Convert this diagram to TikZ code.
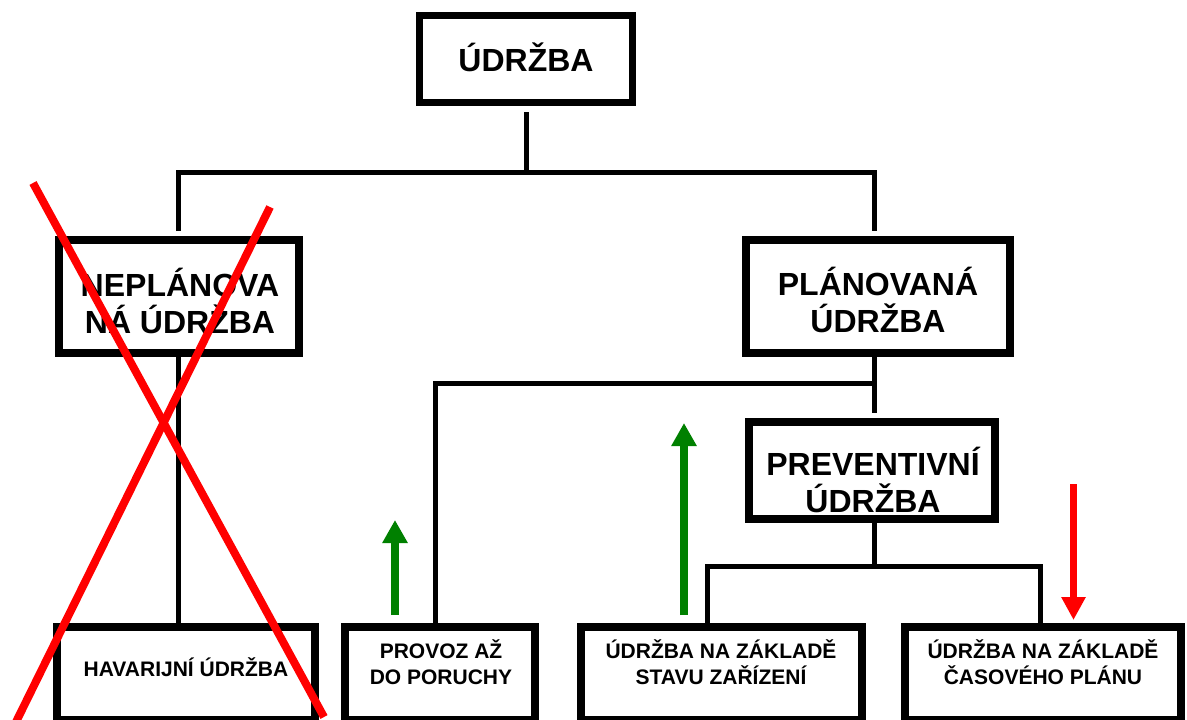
\documentclass[tikz,border=0pt]{standalone}
\usepackage{fontspec}
\setmainfont{Liberation Sans}
\usetikzlibrary{arrows.meta,calc}
\definecolor{arrgreen}{RGB}{0,128,0}
\definecolor{crossred}{RGB}{255,0,0}
\begin{document}
\begin{tikzpicture}[x=1pt,y=-1pt,
  box/.style={draw=black,line width=8pt,rectangle,inner sep=0pt},
  bigtxt/.style={font=\bfseries\fontsize{32}{36.5}\selectfont,align=center,inner sep=0pt},
  smalltxt/.style={font=\bfseries\fontsize{21}{25.5}\selectfont,align=center,inner sep=0pt},
  conn/.style={draw=black,line width=5pt,line join=miter},
  greenarrow/.style={draw=arrgreen,line width=8pt,-{Triangle[width=24pt,length=23pt]},arrgreen},
  redarrow/.style={draw=crossred,line width=7pt,-{Triangle[width=23pt,length=23pt]},crossred},
  cross/.style={draw=crossred,line width=8pt}]
\useasboundingbox (0,0) rectangle (1187,720);
% boxes
\node[box,line width=7pt,minimum width=213pt,minimum height=87pt] (top) at (526,59) {};
\node[box,minimum width=240pt,minimum height=113pt] (nep) at (179,296.5) {};
\node[box,minimum width=264pt,minimum height=113pt] (plan) at (878,296.5) {};
\node[box,minimum width=246pt,minimum height=97pt] (prev) at (872,470.5) {};
\node[box,minimum width=258pt,minimum height=93pt] (hav) at (186,673.5) {};
\node[box,minimum width=190pt,minimum height=93pt] (prov) at (440,673.5) {};
\node[box,minimum width=281pt,minimum height=93pt] (stav) at (721.5,673.5) {};
\node[box,minimum width=276pt,minimum height=93pt] (cas) at (1043,673.5) {};
% texts
\node[bigtxt] (topT) at (526,57) {ÚDRŽBA};
\node[bigtxt] (nepT) at (180,301) {NEPLÁNOVA\\NÁ ÚDRŽBA};
\node[bigtxt] (planT) at (878,300) {PLÁNOVANÁ\\ÚDRŽBA};
\node[bigtxt] (prevT) at (873,480) {PREVENTIVNÍ\\ÚDRŽBA};
\node[smalltxt] (havT) at (186,667) {HAVARIJNÍ ÚDRŽBA};
\node[smalltxt] (provT) at (441,662) {PROVOZ AŽ\\DO PORUCHY};
\node[smalltxt] (stavT) at (721,662) {ÚDRŽBA NA ZÁKLADĚ\\STAVU ZAŘÍZENÍ};
\node[smalltxt] (casT) at (1043,662) {ÚDRŽBA NA ZÁKLADĚ\\ČASOVÉHO PLÁNU};
% junctions and connector columns
\coordinate (j1) at (526,172);
\coordinate (j2) at (874,383);
\coordinate (j3) at (874,566);
\coordinate (xl) at (178,0);
\coordinate (xr) at (874,0);
\coordinate (xp) at (435,0);
\coordinate (xs) at (707,0);
\coordinate (xc) at (1040,0);
% connectors
\draw[conn] ($(top.south)+(0,6)$) -- (top.south |- j1);
\draw[conn] ($(nep.north -| xl)+(0,-5)$) |- (j1) -| ($(plan.north -| xr)+(0,-5)$);
\draw[conn] (plan.south -| xr) -- ($(prev.north -| xr)+(0,-5)$);
\draw[conn] (j2) -| (prov.north -| xp);
\draw[conn] (nep.south -| xl) -- (hav.north -| xl);
\draw[conn] (prev.south -| xr) -- (j3);
\draw[conn] (stav.north -| xs) |- (j3) -| (cas.north -| xc);
% arrows
\coordinate (g1s) at (395,615);
\coordinate (g1e) at (395,520);
\coordinate (g2s) at (684,615);
\coordinate (g2e) at (684,423);
\coordinate (r1s) at (1073.5,484);
\coordinate (r1e) at (1073.5,620);
\draw[greenarrow] (g1s) -- (g1e);
\draw[greenarrow] (g2s) -- (g2e);
\draw[redarrow] (r1s) -- (r1e);
% red cross
\coordinate (c1a) at (33,183);
\coordinate (c1b) at (324,717);
\coordinate (c2a) at (270,207);
\coordinate (c2b) at (15,724);
\draw[cross] (c1a) -- (c1b);
\draw[cross] (c2a) -- (c2b);
\end{tikzpicture}
\end{document}
